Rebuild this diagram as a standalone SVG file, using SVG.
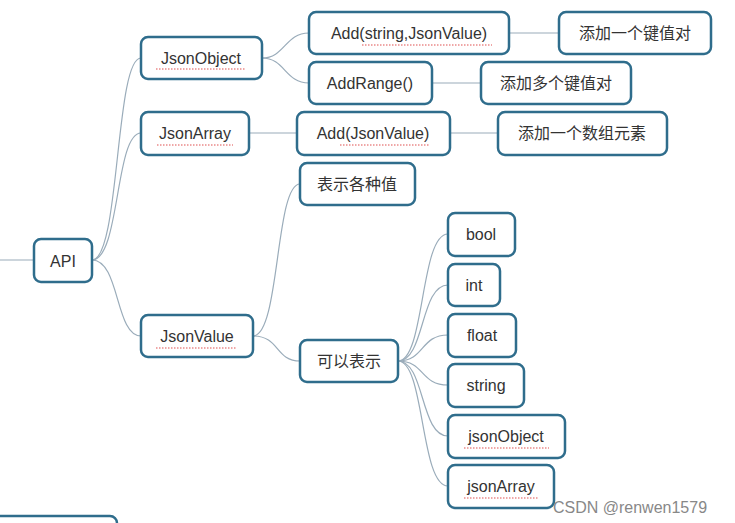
<svg xmlns="http://www.w3.org/2000/svg" width="735" height="523" viewBox="0 0 735 523">
<style>
.n rect{fill:#fff;stroke:#2f6d8c;stroke-width:2.5}
.n text{font-family:"Liberation Sans","Noto Sans CJK SC",sans-serif;font-size:16px;fill:#333;text-anchor:middle;dominant-baseline:central}
.c path{fill:none;stroke:#9aacba;stroke-width:1.2}
.u{stroke:#e05050;stroke-width:1.2;stroke-dasharray:1.5 1.5}
</style>
<rect width="735" height="523" fill="#fff"/>
<g class="c">
<path d="M0 260 H34"/>
<path d="M92 260 C120 260 115 58 141 58"/>
<path d="M92 260 C120 260 115 133 141 133"/>
<path d="M92 260 C120 260 115 336 141 336"/>
<path d="M262 58 C285 58 285 33 309 33"/>
<path d="M262 58 C285 58 285 83 309 83"/>
<path d="M509 33 H559"/>
<path d="M432 83 H481"/>
<path d="M249 133 H297"/>
<path d="M450 133 H498"/>
<path d="M253 336 C280 336 275 184 300 184"/>
<path d="M253 336 C280 336 275 361 300 361"/>
<path d="M398 361 C425 361 420 234 448 234"/>
<path d="M398 361 C425 361 420 285 448 285"/>
<path d="M398 361 C425 361 420 335 448 335"/>
<path d="M398 361 C425 361 420 385 448 385"/>
<path d="M398 361 C425 361 420 436 448 436"/>
<path d="M398 361 C425 361 420 486 448 486"/>
</g>
<g id="api" class="n"><rect x="34" y="239" width="58" height="43" rx="7"/><text x="63" y="261">API</text></g>
<g id="jsonobject" class="n"><rect x="141" y="37" width="121" height="42" rx="7"/><text x="201" y="58">JsonObject</text><line class="u" x1="156" y1="69" x2="246" y2="69"/></g>
<g id="jsonarray" class="n"><rect x="141" y="112" width="108" height="43" rx="7"/><text x="195" y="133">JsonArray</text><line class="u" x1="157" y1="145" x2="233" y2="145"/></g>
<g id="jsonvalue" class="n"><rect x="141" y="315" width="112" height="42" rx="7"/><text x="197" y="336">JsonValue</text><line class="u" x1="156" y1="348" x2="237" y2="348"/></g>
<g id="add1" class="n"><rect x="309" y="12" width="200" height="42" rx="7"/><text x="409" y="33">Add(string,JsonValue)</text><line class="u" x1="362" y1="45" x2="492" y2="45"/></g>
<g id="add1d" class="n"><rect x="559" y="12" width="152" height="42" rx="7"/><text x="635" y="33">添加一个键值对</text></g>
<g id="addrange" class="n"><rect x="309" y="62" width="123" height="42" rx="7"/><text x="370" y="83">AddRange()</text></g>
<g id="addranged" class="n"><rect x="481" y="62" width="150" height="42" rx="7"/><text x="556" y="83">添加多个键值对</text></g>
<g id="add2" class="n"><rect x="297" y="112" width="153" height="43" rx="7"/><text x="373" y="133">Add(JsonValue)</text><line class="u" x1="340" y1="145" x2="430" y2="145"/></g>
<g id="add2d" class="n"><rect x="498" y="112" width="169" height="43" rx="7"/><text x="582" y="133">添加一个数组元素</text></g>
<g id="desc" class="n"><rect x="300" y="163" width="115" height="42" rx="7"/><text x="357" y="184">表示各种值</text></g>
<g id="can" class="n"><rect x="300" y="340" width="98" height="42" rx="7"/><text x="349" y="361">可以表示</text></g>
<g id="bool" class="n"><rect x="448" y="213" width="67" height="43" rx="7"/><text x="481" y="234">bool</text></g>
<g id="int" class="n"><rect x="448" y="264" width="52" height="42" rx="7"/><text x="474" y="285">int</text></g>
<g id="float" class="n"><rect x="448" y="314" width="68" height="43" rx="7"/><text x="482" y="335">float</text></g>
<g id="string" class="n"><rect x="448" y="364" width="76" height="43" rx="7"/><text x="486" y="385">string</text></g>
<g id="jobj" class="n"><rect x="448" y="415" width="117" height="43" rx="7"/><text x="506" y="436">jsonObject</text><line class="u" x1="464" y1="448" x2="549" y2="448"/></g>
<g id="jarr" class="n"><rect x="448" y="465" width="106" height="43" rx="7"/><text x="501" y="486">jsonArray</text><line class="u" x1="464" y1="498" x2="538" y2="498"/></g>
<g class="n"><rect x="-10" y="516" width="127" height="20" rx="7"/></g>
<text x="630" y="513" font-family="Liberation Sans,sans-serif" font-size="16" fill="#888" text-anchor="middle">CSDN @renwen1579</text>
</svg>
